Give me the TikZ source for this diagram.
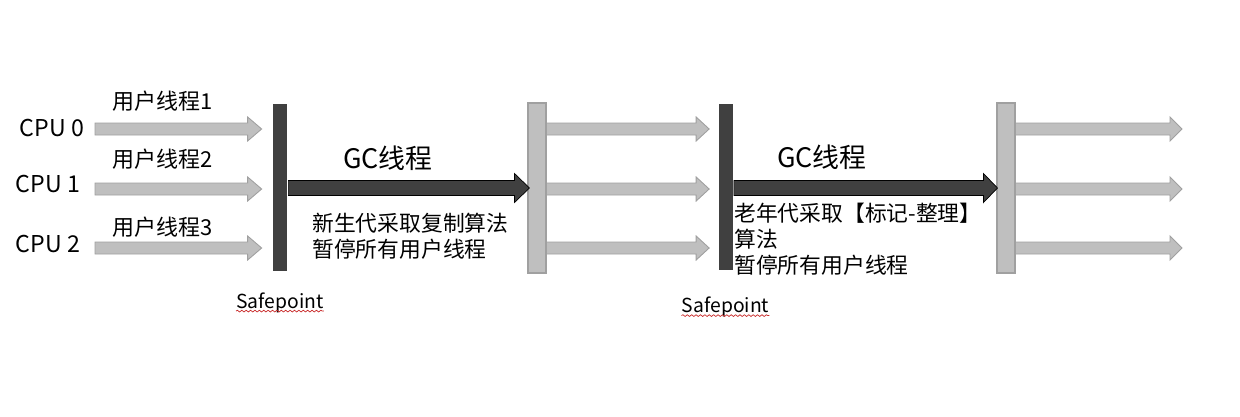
\documentclass[tikz,border=0pt]{standalone}
\usepackage{fontspec}
\setmainfont{Noto Sans CJK SC}
\usetikzlibrary{calc,positioning,decorations.pathmorphing}
\definecolor{bardark}{RGB}{64,64,64}
\definecolor{barlight}{RGB}{191,191,191}
\definecolor{baredge}{RGB}{160,160,160}
\definecolor{spellred}{RGB}{200,40,40}

% block arrow: style, start, tip, shaft half, head half, head length
\newcommand{\blockarrow}[6]{%
  \draw[#1] ($(#2)+(0,-#4)$) -- ($(#3)+(-#6,-#4)$) -- ($(#3)+(-#6,-#5)$) -- (#3)
    -- ($(#3)+(-#6,#5)$) -- ($(#3)+(-#6,#4)$) -- ($(#2)+(0,#4)$) -- cycle;}

\tikzset{
  darkbar/.style={rectangle, fill=bardark, inner sep=0pt, minimum width=0.28cm, minimum height=3.34cm},
  lightbar/.style={rectangle, fill=barlight, draw=baredge, line width=0.6pt, inner sep=0pt, minimum width=0.36cm, minimum height=3.4cm},
  userarrow/.style={fill=barlight, draw=baredge, line width=0.5pt},
  gcarrow/.style={fill=bardark},
  cpulbl/.style={font=\fontsize{13.2}{15}\selectfont, inner sep=0pt},
  threadlbl/.style={font=\fontsize{12.5}{15}\selectfont, inner sep=0pt},
  gclbl/.style={font=\fontsize{15.3}{18}\selectfont, inner sep=0pt},
  notelbl/.style={font=\fontsize{12.4}{14.8}\selectfont, align=left, inner sep=0pt},
  safelbl/.style={font=\fontsize{11}{12}\selectfont, inner sep=0pt},
  squiggle/.style={draw=spellred, line width=0.4pt, decorate, decoration={snake, amplitude=0.5pt, segment length=2.5pt}}
}

\begin{document}
\begin{tikzpicture}[x=0.02cm, y=-0.02cm]
\useasboundingbox (0,0) rectangle (1240,416);
\node[darkbar] (sp1) at (280,187.5) {};
\node[lightbar] (r1) at (537,188) {};
\node[darkbar] (sp2) at (725.5,187) {};
\node[lightbar] (r2) at (1006,188) {};

\node[cpulbl] (cpu0) at (52,128) {CPU 0};
\node[cpulbl] (cpu1) at (48,184) {CPU 1};
\node[cpulbl] (cpu2) at (48,244) {CPU 2};
\node[threadlbl] (t1) at (163,101) {用户线程1};
\node[threadlbl] (t2) at (163,159) {用户线程2};
\node[threadlbl] (t3) at (163,227) {用户线程3};

\foreach \y [count=\i from 0] in {129,189,248}{
  \coordinate (s\i) at (95,\y);
  \coordinate (e\i) at ($(s\i -| sp1.west)+(-11,0)$);
  \coordinate (m\i) at ($(s\i -| sp2.west)+(-9,0)$);
  \coordinate (f\i) at (1182,\y);
  \blockarrow{userarrow}{s\i}{e\i}{6}{12}{14}
  \blockarrow{userarrow}{s\i -| r1.east}{m\i}{6}{12}{13}
  \blockarrow{userarrow}{s\i -| r2.east}{f\i}{6}{12}{12}
}

\coordinate (g1s) at ($(sp1.east |- r1.west)+(1,0)$);
\coordinate (g1e) at ($(r1.west)+(2,0)$);
\coordinate (g2s) at ($(sp2.east |- r2.west)+(1,0)$);
\coordinate (g2e) at ($(r2.west)+(1,0)$);
\blockarrow{gcarrow}{g1s}{g1e}{7.5}{14.5}{15}
\blockarrow{gcarrow}{g2s}{g2e}{7.5}{14.5}{14}

\node[gclbl] (gc1) at (388,158) {GC线程};
\node[gclbl] (gc2) at (822,157) {GC线程};
\node[notelbl, anchor=west] (n1) at (312,236) {新生代采取复制算法\\暂停所有用户线程};
\node[notelbl, anchor=west] (n2) at (734,239) {老年代采取【标记-整理】\\算法\\暂停所有用户线程};

\node[safelbl, below=0.42cm of sp1] (safe1) {Safepoint};
\node[safelbl, below=0.52cm of sp2] (safe2) {Safepoint};
\draw[squiggle] ($(safe1.south west)+(0,-2)$) -- ($(safe1.south east)+(0,-2)$);
\draw[squiggle] ($(safe2.south west)+(0,-2)$) -- ($(safe2.south east)+(0,-2)$);
\end{tikzpicture}
\end{document}
